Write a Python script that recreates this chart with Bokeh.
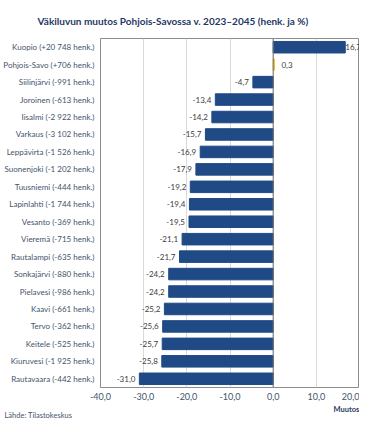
from bokeh.plotting import figure
from bokeh.models import Range1d, FactorRange, Span, ColumnDataSource, SingleIntervalTicker, CustomJSTickFormatter, Title
from bokeh.core.properties import value
from bokeh.embed import file_html
from bokeh.resources import INLINE

# ---- data ----
regions = ["Kuopio (+20 748 henk.)", "Pohjois-Savo (+706 henk.)", "Siilinjärvi (-991 henk.)",
           "Joroinen (-613 henk.)", "Iisalmi (-2 922 henk.)", "Varkaus (-3 102 henk.)",
           "Leppävirta (-1 526 henk.)", "Suonenjoki (-1 202 henk.)", "Tuusniemi (-444 henk.)",
           "Lapinlahti (-1 744 henk.)", "Vesanto (-369 henk.)", "Vieremä (-715 henk.)",
           "Rautalampi (-635 henk.)", "Sonkajärvi (-880 henk.)", "Pielavesi (-986 henk.)",
           "Kaavi (-661 henk.)", "Tervo (-362 henk.)", "Keitele (-525 henk.)",
           "Kiuruvesi (-1 925 henk.)", "Rautavaara (-442 henk.)"]
change_pct = [16.7, 0.3, -4.7, -13.4, -14.2, -15.7, -16.9, -17.9, -19.2, -19.4,
              -19.5, -21.1, -21.7, -24.2, -24.2, -25.2, -25.6, -25.7, -25.8, -31.0]
highlight = "Pohjois-Savo (+706 henk.)"
title_text = "Väkiluvun muutos Pohjois-Savossa v. 2023–2045 (henk. ja %)"
source_text = "Lähde: Tilastokeskus"
axis_text = "Muutos (%)"

FONT = "Lato"
BLUE = "#1f4a86"
GOLD = "#f2c12e"
NAVY = "#1f3864"
GRAYTXT = "#44546a"

W, H = 359, 418
BL, BR = 100, 0
XMIN, XMAX = -40, 20

colors = [GOLD if r == highlight else BLUE for r in regions]
labels = [f"{v:.1f}".replace(".", ",") for v in change_pct]
neg = [v < 0 for v in change_pct]

p = figure(width=W, height=H, output_backend="svg", toolbar_location=None,
           x_range=Range1d(XMIN, XMAX),
           y_range=FactorRange(factors=list(reversed(regions)), range_padding=0),
           min_border_left=BL, min_border_right=BR, min_border_top=0, min_border_bottom=0)

p.title = Title(text=title_text, align="left", offset=-63, text_font=FONT,
                text_font_style="bold", text_font_size="10px", text_color=NAVY,
                standoff=24)

src = ColumnDataSource(dict(region=regions, val=change_pct, color=colors, lab=labels))
p.hbar(y="region", left=0, right="val", height=0.66, color="color", source=src)

p.add_layout(Span(location=0, dimension="height", line_color="#707070", line_width=1))

# value labels
nsrc = ColumnDataSource(dict(region=[r for r, n in zip(regions, neg) if n],
                             val=[v for v, n in zip(change_pct, neg) if n],
                             lab=[l for l, n in zip(labels, neg) if n]))
p.text(x="val", y="region", text="lab", source=nsrc, text_align="right", text_baseline="middle",
       x_offset=-4, text_font=value(FONT), text_font_size="8px", text_color="#404040")
for r, v, l in zip(regions, change_pct, labels):
    if v >= 0:
        off = 0 if v > 10 else 7
        p.text(x=[v], y=[r], text=[l], text_align="left", text_baseline="middle",
               x_offset=off, text_font=value(FONT), text_font_size="8px", text_color="#404040")

p.outline_line_color = "#8c8c8c"
p.xgrid.ticker = SingleIntervalTicker(interval=10)
p.xgrid.grid_line_color = "#d9d9d9"
p.ygrid.grid_line_color = None

p.xaxis.ticker = SingleIntervalTicker(interval=10)
p.xaxis.formatter = CustomJSTickFormatter(code="return tick.toFixed(1).replace('.', ',');")
p.xaxis.axis_line_color = None
p.xaxis.major_tick_line_color = None
p.xaxis.minor_tick_line_color = None
p.xaxis.major_tick_out = 0
p.xaxis.major_tick_in = 0
p.xaxis.minor_tick_out = 0
p.xaxis.major_label_text_font = FONT
p.xaxis.major_label_text_font_size = "9px"
p.xaxis.major_label_text_color = GRAYTXT
p.xaxis.major_label_standoff = 5

p.yaxis.axis_line_color = None
p.yaxis.major_tick_line_color = None
p.yaxis.minor_tick_line_color = None
p.yaxis.major_tick_out = 0
p.yaxis.major_tick_in = 0
p.yaxis.minor_tick_out = 0
p.yaxis.major_label_text_font = FONT
p.yaxis.major_label_text_font_size = "8px"
p.yaxis.major_label_text_color = GRAYTXT
p.yaxis.major_label_standoff = 6

# bottom texts as titles in the "below" panel (second one nudged up towards the first)
p.add_layout(Title(text=axis_text, align="left", offset=233, standoff=0, text_font=FONT,
                   text_font_style="bold", text_font_size="7.5px", text_color=NAVY), "below")
p.add_layout(Title(text=source_text, align="left", offset=-96, standoff=-6, vertical_align="top",
                   text_font=FONT, text_font_style="normal", text_font_size="7.5px",
                   text_color=GRAYTXT), "below")

open("out.html", "w").write(file_html(p, INLINE))
